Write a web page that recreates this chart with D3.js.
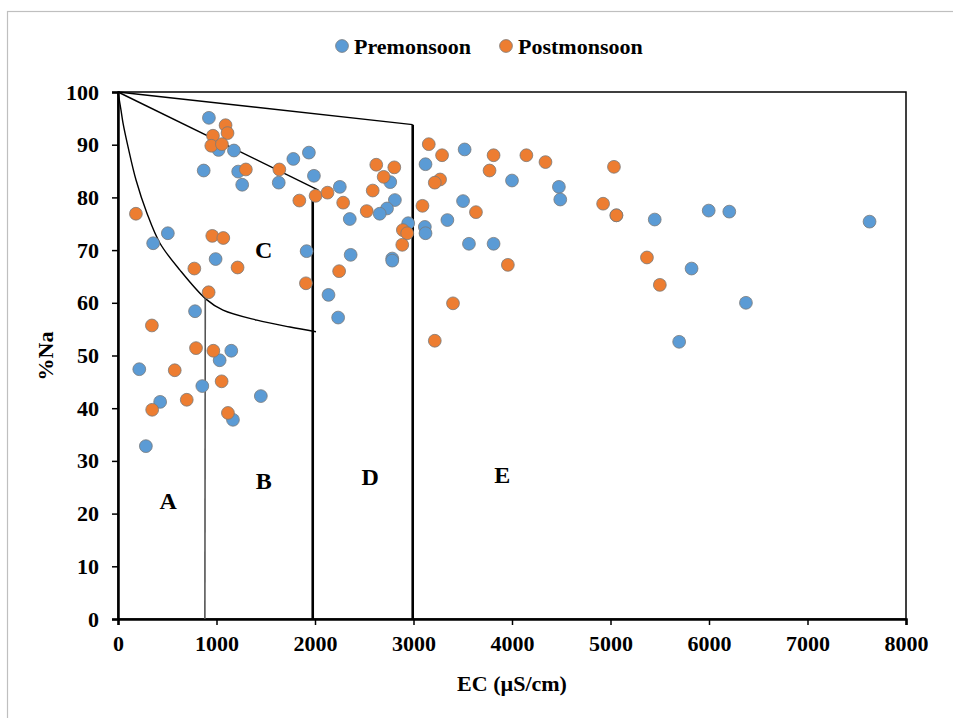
<!DOCTYPE html>
<html>
<head>
<meta charset="utf-8">
<script src="https://cdn.jsdelivr.net/npm/d3@7"></script>
<style>
  html, body { margin: 0; padding: 0; background: #fff; }
  svg text { font-family: "Liberation Serif", "Times New Roman", serif; font-weight: bold; fill: #000; }
</style>
</head>
<body>
<svg id="chart" width="953" height="718"></svg>
<script>
// EC (µS/cm) and %Na for each sample, pre- and post-monsoon
const preEC = [923, 1021, 1177, 870, 1220, 1261, 1632, 1780, 1938, 1989, 2252, 357, 506, 991, 1915, 2362, 2353,
  2764, 2811, 2731, 2657, 2946, 2784, 2784, 3122, 3115, 3122, 3344, 3503, 3519, 3563, 3813, 4000, 4476, 4490,
  5060, 5449, 5997, 6206, 7630, 5823, 6375, 5697, 2137, 2235, 782, 1150, 1032, 216, 856, 1450, 428, 1167, 283];
const preNa = [95.1, 89.0, 88.9, 85.1, 84.9, 82.4, 82.8, 87.3, 88.5, 84.1, 82.0, 71.3, 73.2, 68.3, 69.8, 69.1, 75.9,
  82.9, 79.5, 77.9, 76.9, 75.1, 68.4, 68.0, 86.3, 74.4, 73.2, 75.7, 79.3, 89.1, 71.2, 71.2, 83.2, 82.0, 79.6,
  76.6, 75.8, 77.5, 77.3, 75.4, 66.5, 60.0, 52.6, 61.5, 57.2, 58.4, 50.9, 49.1, 47.4, 44.2, 42.3, 41.2, 37.8, 32.8];

const postEC = [1092, 1112, 964, 947, 1055, 1298, 1638, 1841, 2006, 2127, 2286, 182, 957, 1069, 775, 1214, 2245,
  2525, 2586, 2622, 2805, 2697, 2892, 2936, 2886, 3155, 3290, 3270, 3216, 3091, 3634, 3958, 3813, 3772, 4146,
  4340, 5035, 4925, 5060, 5370, 5501, 3401, 3216, 1908, 920, 344, 792, 968, 576, 1052, 698, 347, 1116];
const postNa = [93.7, 92.2, 91.7, 89.8, 90.1, 85.3, 85.3, 79.4, 80.3, 80.9, 79.0, 76.9, 72.7, 72.3, 66.5, 66.7, 66.0,
  77.4, 81.3, 86.2, 85.7, 83.9, 73.8, 73.2, 71.0, 90.1, 88.0, 83.4, 82.8, 78.4, 77.2, 67.2, 88.0, 85.1, 88.0,
  86.7, 85.8, 78.8, 76.6, 68.6, 63.4, 59.9, 52.8, 63.7, 62.0, 55.7, 51.4, 50.9, 47.2, 45.1, 41.6, 39.7, 39.1];

// Axis ticks
const xTicks = [0, 1000, 2000, 3000, 4000, 5000, 6000, 7000, 8000];
const yTicks = [0, 10, 20, 30, 40, 50, 60, 70, 80, 90, 100];

// Zone boundaries of the diagram, as [EC, %Na]
const curveAB = [[0, 100], [30, 96.6], [51, 94.1], [102, 89.6], [183, 83.3], [294, 77.0], [426, 71.3],
  [629, 66.2], [893, 60.7], [1066, 58.6], [1411, 56.7], [1746, 55.4], [2010, 54.5]];
const lineAB = [[886, 60.8], [882, 0]];
const diagBC = [[0, 100], [2034, 81.4]];
const lineBD = [[1977, 80.3], [1977, 0]];
const diagDE = [[0, 100], [2992, 93.8]];
const lineDE = [[2992, 93.8], [2992, 0]];

// Zone letters, placed at [EC, %Na]
const zoneNames = ["A", "B", "C", "D", "E"];
const zoneEC = [510, 1480, 1480, 2560, 3900];
const zoneNa = [22.4, 26.2, 70.0, 27.0, 27.3];

const seriesNames = ["Premonsoon", "Postmonsoon"];
const seriesColors = ["#5B9BD5", "#ED7D31"];

const svg = d3.select("#chart");

// outer chart frame
svg.append("rect").attr("x", 7.5).attr("y", 11.5).attr("width", 960).attr("height", 720)
  .attr("fill", "none").attr("stroke", "#bfbfbf").attr("stroke-width", 1.2);

const x = d3.scaleLinear().domain([0, 8000]).range([118, 906]);
const y = d3.scaleLinear().domain([0, 100]).range([619, 92]);

// plot frame
svg.append("rect").attr("x", 118).attr("y", 92).attr("width", 788).attr("height", 527)
  .attr("fill", "none").attr("stroke", "#000").attr("stroke-width", 1.5);

// axes
const xAxis = svg.append("g").attr("transform", "translate(0,619)")
  .call(d3.axisBottom(x).tickValues(xTicks).tickFormat(d3.format("d")).tickSize(6).tickPadding(10));
const yAxis = svg.append("g").attr("transform", "translate(118,0)")
  .call(d3.axisLeft(y).tickValues(yTicks).tickFormat(d3.format("d")).tickSize(6).tickPadding(13));
[xAxis, yAxis].forEach(g => {
  g.select(".domain").attr("stroke", "#000").attr("stroke-width", 2.5);
  g.selectAll(".tick line").attr("stroke", "#000").attr("stroke-width", 1.5);
  g.selectAll(".tick text").style("font-family", "'Liberation Serif', serif")
    .style("font-weight", "bold").style("font-size", "22px").attr("fill", "#000");
});

// boundary lines
const smooth = d3.line().x(d => x(d[0])).y(d => y(d[1])).curve(d3.curveCatmullRom.alpha(0.5));
svg.append("path").datum(curveAB).attr("d", smooth)
  .attr("fill", "none").attr("stroke", "#000").attr("stroke-width", 1.4);
const straight = d3.line().x(d => x(d[0])).y(d => y(d[1]));
[[diagBC, 1.4, "#000"], [diagDE, 1.4, "#000"], [lineAB, 1.6, "#555"], [lineBD, 2.6, "#000"], [lineDE, 2.6, "#000"]]
  .forEach(([pts, w, c]) => {
    svg.append("path").datum(pts).attr("d", straight).attr("fill", "none")
      .attr("stroke", c).attr("stroke-width", w);
  });

// zone labels
svg.selectAll("text.zone").data(zoneNames).enter().append("text").attr("class", "zone")
  .attr("x", (d, i) => x(zoneEC[i])).attr("y", (d, i) => y(zoneNa[i]))
  .attr("text-anchor", "middle").attr("dominant-baseline", "central")
  .style("font-size", "24px").text(d => d);

// sample points
const series = [
  preEC.map((v, i) => [v, preNa[i]]),
  postEC.map((v, i) => [v, postNa[i]])
];
series.forEach((pts, s) => {
  svg.append("g").selectAll("circle").data(pts).enter().append("circle")
    .attr("cx", d => x(d[0])).attr("cy", d => y(d[1])).attr("r", 6.4)
    .attr("fill", seriesColors[s]).attr("stroke", "#7a7a7a").attr("stroke-width", 0.8);
});

// legend
const legendX = [342, 506];
seriesNames.forEach((name, i) => {
  svg.append("circle").attr("cx", legendX[i]).attr("cy", 46).attr("r", 6.4)
    .attr("fill", seriesColors[i]).attr("stroke", "#7a7a7a").attr("stroke-width", 0.8);
  svg.append("text").attr("x", legendX[i] + 12).attr("y", 46).attr("dominant-baseline", "central")
    .style("font-size", "22px").text(name);
});

// axis titles
svg.append("text").attr("x", 512).attr("y", 683).attr("text-anchor", "middle")
  .attr("dominant-baseline", "central").style("font-size", "22px").text("EC (µS/cm)");
svg.append("text").attr("transform", "translate(45,356) rotate(-90)").attr("text-anchor", "middle")
  .attr("dominant-baseline", "central").style("font-size", "22px").text("%Na");
</script>
</body>
</html>
